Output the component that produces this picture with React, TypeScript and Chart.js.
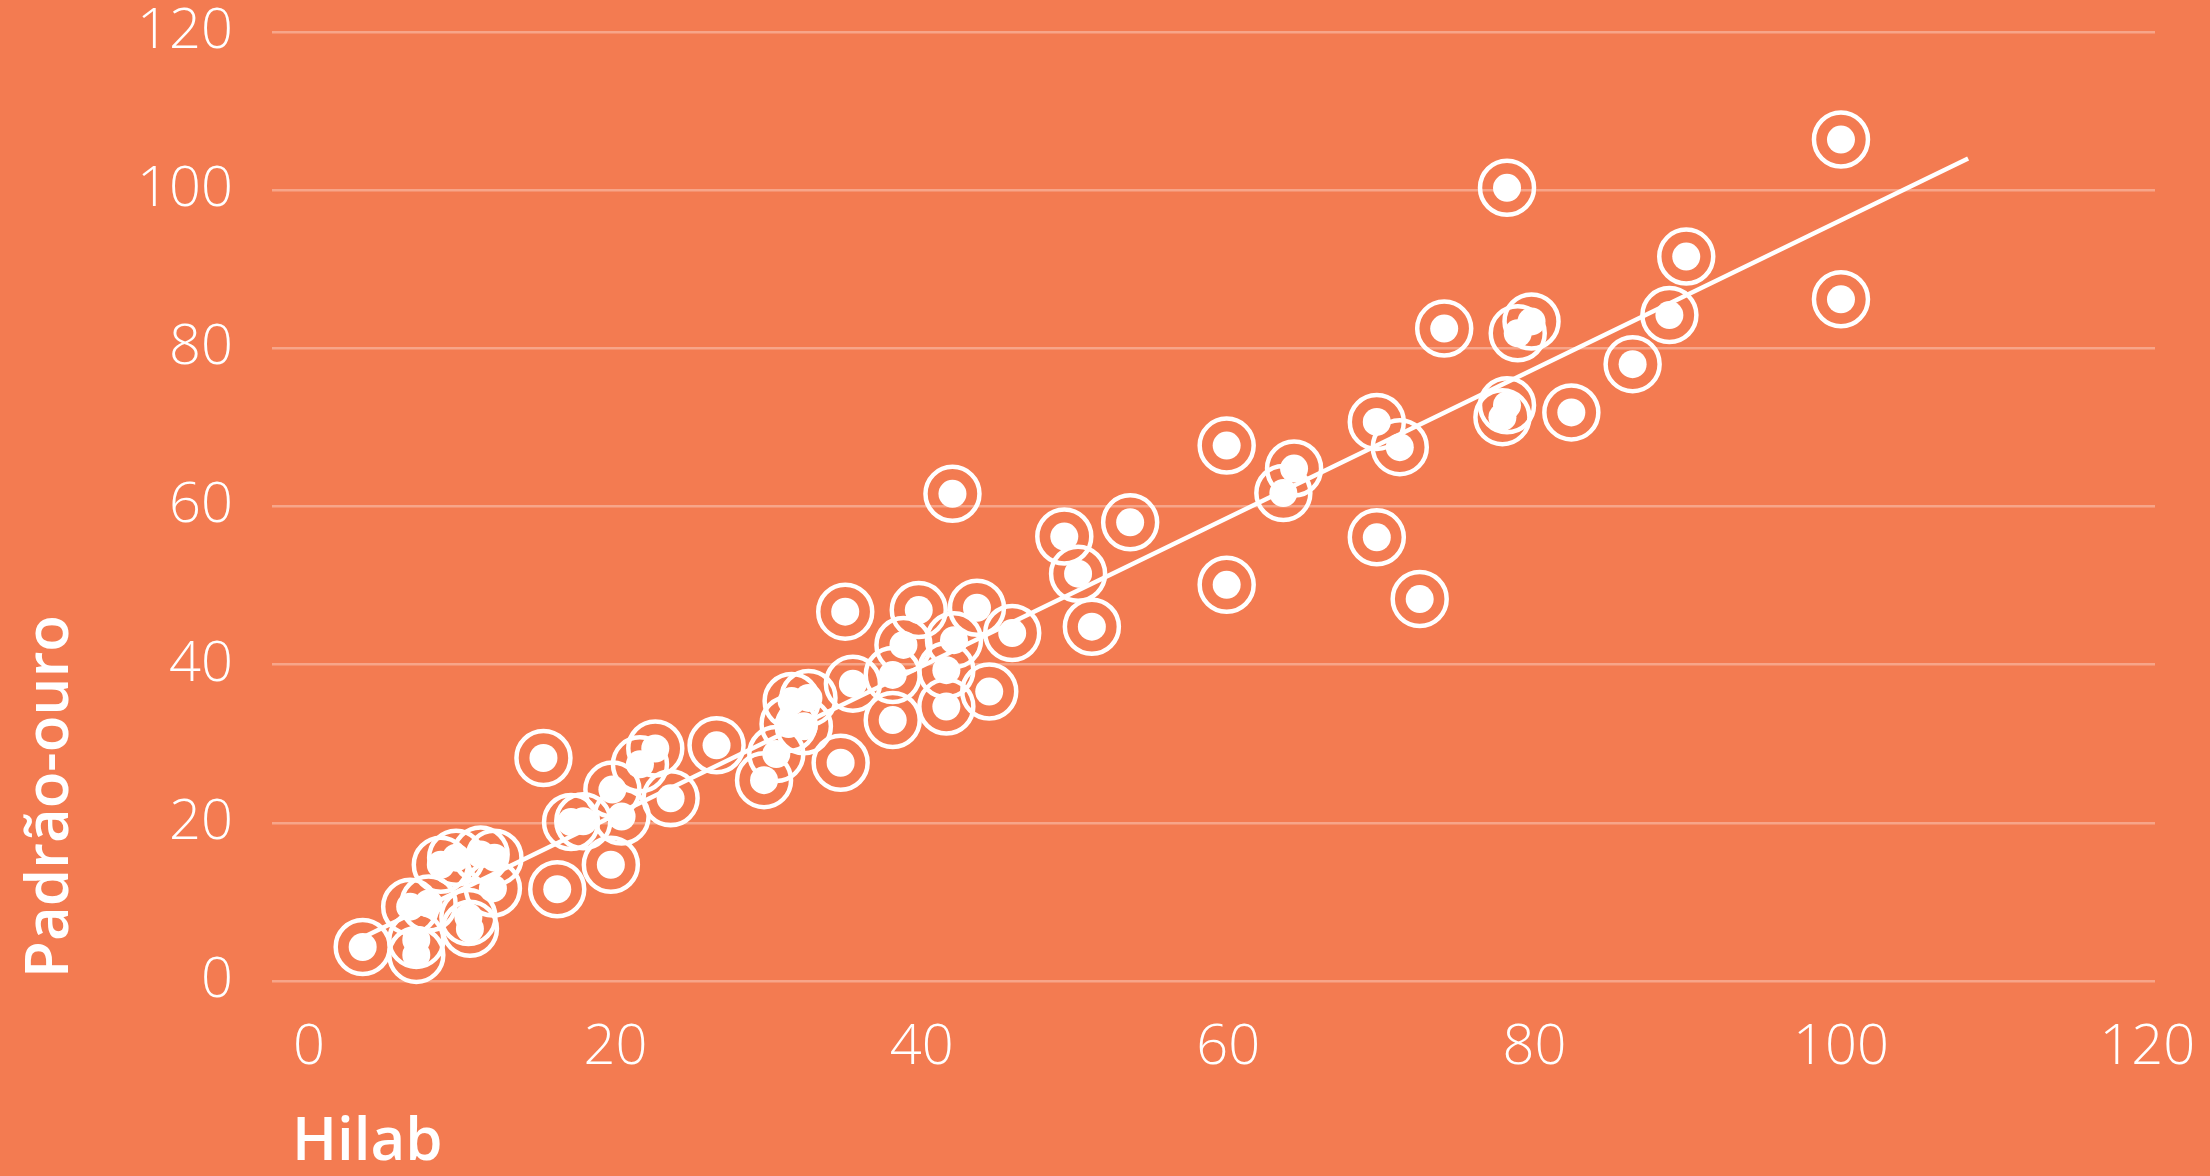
import React, { useEffect, useRef } from "react";
import { Chart, registerables } from "chart.js";

Chart.register(...registerables);

// Hilab (x) values
const hilabValues = [
  3.5, 7.0, 7.0, 6.6, 7.8, 8.6, 9.6, 10.4, 10.5, 11.2, 12.1, 12.0, 16.2, 15.3, 17.1, 17.9,
  19.7, 19.8, 20.4, 21.6, 22.6, 23.6, 26.6, 29.7, 30.5, 31.5, 32.6, 31.3, 32.3, 34.7, 35.0,
  35.5, 38.1, 38.1, 38.8, 39.8, 41.6, 41.6, 42.1, 42.0, 43.6, 44.4, 45.9, 49.3, 50.2, 51.1,
  53.6, 59.9, 59.9, 63.6, 64.3, 69.7, 71.2, 69.7, 72.5, 74.1, 77.9, 78.2, 78.2, 78.9, 79.8,
  82.4, 86.4, 88.8, 89.9, 100, 100,
];
// Padrão-ouro (y) values
const padraoValues = [
  4.3, 5.2, 3.3, 9.4, 9.8, 14.7, 15.6, 8.1, 6.6, 16.0, 15.6, 11.7, 11.6, 28.2, 20.1, 20.2,
  14.7, 24.2, 20.8, 27.4, 29.4, 23.1, 29.8, 25.4, 28.7, 35.4, 35.8, 32.5, 32.2, 27.6, 46.7,
  37.6, 38.7, 33.0, 42.5, 46.9, 39.3, 34.7, 43.1, 61.6, 47.2, 36.6, 44.0, 56.2, 51.5, 44.8,
  58.0, 67.7, 50.1, 61.7, 64.8, 70.7, 67.5, 56.1, 48.3, 82.5, 71.3, 72.8, 100.3, 81.9, 83.4,
  71.9, 78.0, 84.2, 91.6, 106.4, 86.2,
];
// Trend line end points
const trendX = [3.6, 108.3];
const trendY = [5.6, 104.0];

const xTickValues = [0, 20, 40, 60, 80, 100, 120];
const yTickValues = [0, 20, 40, 60, 80, 100, 120];
const xTitle = "Hilab";
const yTitle = "Padrão-ouro";

const BG = "#F37B51";

const axisTitlePlugin = {
  id: "axisTitles",
  afterDraw(chart: any) {
    const { ctx, chartArea } = chart;
    ctx.save();
    ctx.fillStyle = "#ffffff";
    ctx.font = '600 60px "Open Sans", sans-serif';
    ctx.textAlign = "left";
    ctx.textBaseline = "alphabetic";
    ctx.fillText(xTitle, chartArea.left + 20, chartArea.bottom + 179);
    ctx.translate(chartArea.left - 204, chartArea.bottom - 3);
    ctx.rotate(-Math.PI / 2);
    ctx.fillText(yTitle, 0, 0);
    ctx.restore();
  },
};

export default function App() {
  const canvasRef = useRef<HTMLCanvasElement | null>(null);

  useEffect(() => {
    document.body.style.margin = "0";
    document.body.style.background = BG;
    let chart: Chart | null = null;
    let cancelled = false;

    const build = () => {
      if (cancelled || !canvasRef.current) return;
      const points = hilabValues.map((x, i) => ({ x, y: padraoValues[i] }));
      const trend = trendX.map((x, i) => ({ x, y: trendY[i] }));
      chart = new Chart(canvasRef.current, {
        type: "scatter",
        data: {
          datasets: [
            {
              type: "line",
              data: trend,
              borderColor: "#ffffff",
              borderWidth: 4.5,
              pointRadius: 0,
              fill: false,
              order: 0,
              clip: false,
            } as any,
            {
              data: points,
              pointRadius: 14,
              backgroundColor: "#ffffff",
              borderWidth: 0,
              order: 1,
              clip: false,
            } as any,
            {
              data: points,
              pointRadius: 27,
              backgroundColor: "rgba(0,0,0,0)",
              borderColor: "#ffffff",
              borderWidth: 4.5,
              order: 2,
              clip: false,
            } as any,
          ],
        },
        options: {
          responsive: false,
          animation: false,
          devicePixelRatio: 1,
          events: [],
          layout: { padding: { left: 0, right: 55, top: 32, bottom: 0 } },
          plugins: { legend: { display: false }, tooltip: { enabled: false } },
          scales: {
            x: {
              type: "linear",
              min: -2.42,
              max: 120.5,
              grid: { display: false },
              border: { display: false },
              ticks: {
                color: "#ffffff",
                padding: 25,
                font: { family: '"Open Sans", sans-serif', size: 56, weight: "300" },
              },
              afterBuildTicks: (s: any) => {
                s.ticks = xTickValues.map((v) => ({ value: v }));
              },
              afterFit: (s: any) => {
                s.height = 195;
                s.paddingLeft = 0;
                s.paddingRight = 0;
              },
            },
            y: {
              type: "linear",
              min: 0,
              max: 120,
              grid: { color: "rgba(255,255,255,0.32)", lineWidth: 2.5, drawTicks: false },
              border: { display: false },
              ticks: {
                color: "#ffffff",
                padding: 39,
                font: { family: '"Open Sans", sans-serif', size: 56, weight: "300" },
              },
              afterBuildTicks: (s: any) => {
                s.ticks = yTickValues.map((v) => ({ value: v }));
              },
              afterFit: (s: any) => {
                s.width = 272;
                s.paddingTop = 0;
                s.paddingBottom = 0;
              },
            },
          },
        } as any,
        plugins: [axisTitlePlugin],
      });
    };

    const fontsReady = (document as any).fonts
      ? Promise.all([
          (document as any).fonts.load('300 56px "Open Sans"'),
          (document as any).fonts.load('600 60px "Open Sans"'),
        ]).catch(() => null)
      : Promise.resolve(null);
    fontsReady.then(build);

    return () => {
      cancelled = true;
      if (chart) chart.destroy();
    };
  }, []);

  return (
    <div style={{ width: 2210, height: 1176, background: BG, overflow: "hidden" }}>
      <canvas ref={canvasRef} width={2210} height={1176} style={{ display: "block" }} />
    </div>
  );
}
